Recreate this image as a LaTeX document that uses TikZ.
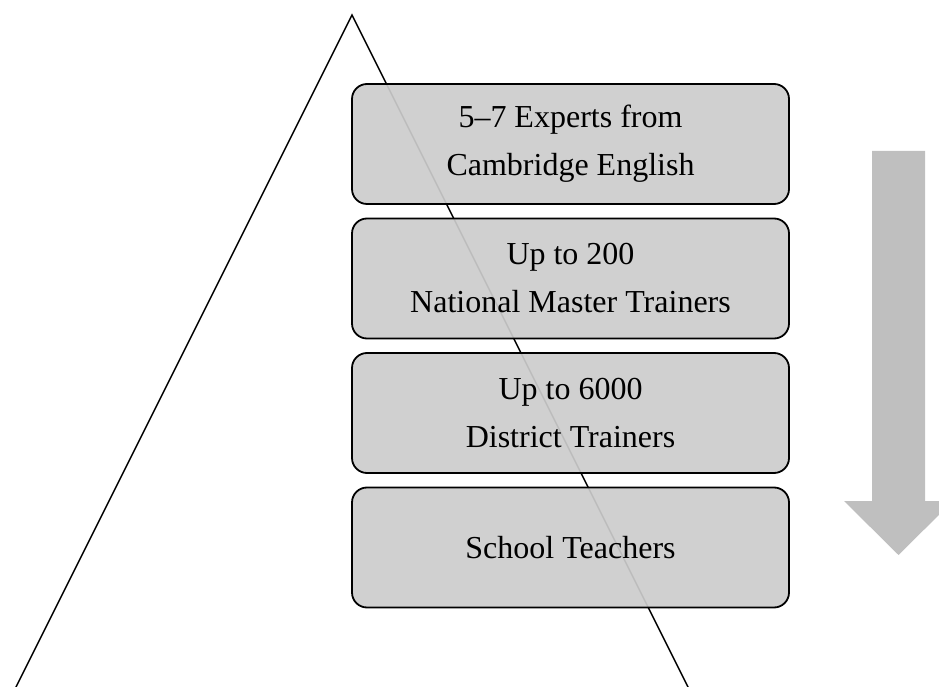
\documentclass[tikz,border=0pt]{standalone}
\usepackage{fontspec}
\setmainfont{Liberation Serif}

\tikzset{
	level/.style={draw=black,line width=1.8pt,rounded corners=15pt,
		fill=black!20,fill opacity=0.92,text opacity=1,
		minimum width=437pt,minimum height=120pt,align=center,
		font=\fontsize{32}{48}\selectfont},
	side/.style={line width=1.5pt,black}
}

\begin{document}
\begin{tikzpicture}[x=1pt,y=1pt]
	\useasboundingbox (0,0) rectangle (939,686);
	
	% pyramid sides
	\coordinate (top) at (352,671);
	\coordinate (lbase) at (9.5,-14);
	\coordinate (rbase) at (694.5,-14);
	\draw[side](lbase)--(top)--(rbase);
	
	% cascade levels
	\node[level] (expert) at (570.5,542) {5–7 Experts from\\Cambridge English};
	\node[level] (master) at (570.5,407.5) {Up to 200\\National Master Trainers};
	\node[level] (district) at (570.5,273) {Up to 6000\\District Trainers};
	\node[level] (teacher) at (570.5,138.5) {School Teachers};
	
	% downward arrow
	\fill[black!25](872,535)--(925,535)--(925,185)--(953,185)--(898.5,131)--(844,185)--(872,185)--cycle;
	
\end{tikzpicture}
\end{document}
